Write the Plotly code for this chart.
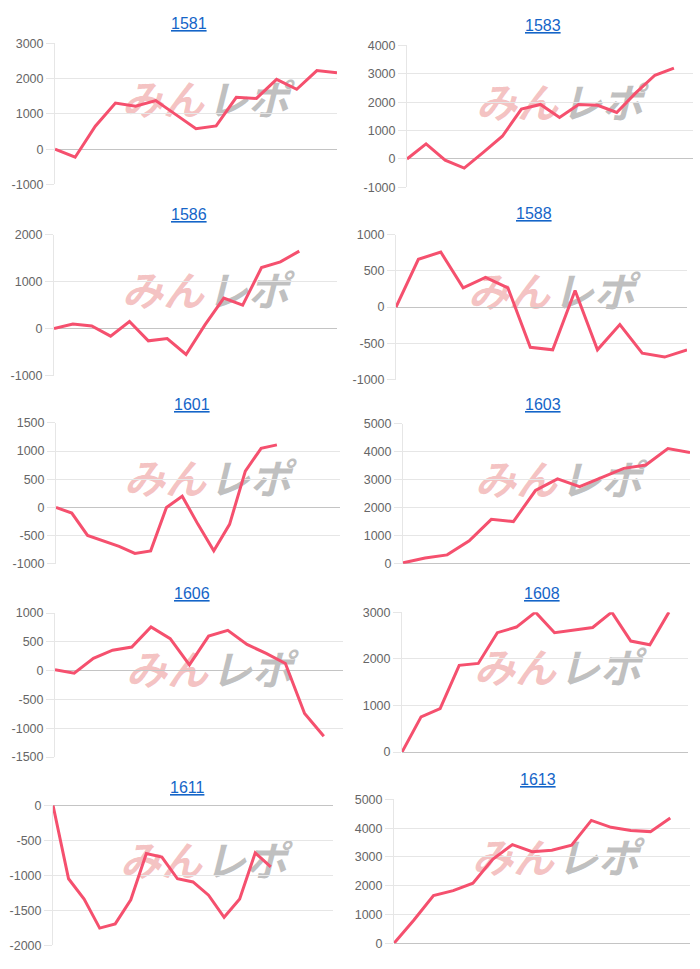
import plotly.graph_objects as go

# ---------------- data ----------------
titles = ["1581", "1583", "1586", "1588", "1601", "1603", "1606", "1608", "1611", "1613"]
n_categories = [15, 16, 16, 14, 19, 14, 16, 16, 19, 16]

v1581 = [0, -230, 650, 1310, 1220, 1380, 980, 580, 660, 1470, 1440, 1980, 1700, 2230, 2170]
v1583 = [0, 530, -40, -320, 230, 800, 1760, 1920, 1460, 1920, 1890, 1640, 2330, 2950, 3200]
v1586 = [0, 100, 55, -160, 150, -260, -210, -550, 80, 650, 500, 1300, 1420, 1650]
v1588 = [0, 660, 760, 265, 410, 265, -555, -590, 230, -590, -240, -635, -690, -590]
v1601 = [0, -100, -495, -590, -690, -815, -770, 0, 200, -300, -770, -300, 645, 1050, 1110]
v1603 = [35, 210, 320, 820, 1590, 1510, 2620, 3035, 2760, 3080, 3410, 3530, 4120, 3980]
v1606 = [15, -45, 215, 355, 410, 760, 555, 100, 600, 700, 455, 300, 125, -745, -1140]
v1608 = [0, 755, 930, 1860, 1900, 2560, 2680, 3000, 2560, 2620, 2670, 3000, 2380, 2300, 3000]
v1611 = [0, -1050, -1340, -1755, -1695, -1350, -690, -740, -1050, -1095, -1285, -1600, -1340, -680, -880]
v1613 = [0, 800, 1660, 1830, 2090, 2920, 3430, 3180, 3230, 3410, 4270, 4030, 3920, 3880, 4350]

series = [v1581, v1583, v1586, v1588, v1601, v1603, v1606, v1608, v1611, v1613]

y_min = [-1000, -1000, -1000, -1000, -1000, 0, -1500, 0, -2000, 0]
y_max = [3000, 4000, 2000, 1000, 1500, 5000, 1000, 3000, 0, 5000]
y_step = [1000, 1000, 1000, 500, 500, 1000, 500, 1000, 500, 1000]

watermark_parts = ["みん", "レポ"]

# ---------------- layout (pixels) ----------------
W, H = 700, 969
# plot boxes: x0, x1, y0(top), y1(bottom)
boxes = [
    (55, 337, 37, 180), (407, 693, 39, 183),
    (54, 337, 231, 374), (396, 687, 231, 378),
    (56, 340, 422, 565), (403, 690, 423, 565),
    (55, 343, 615, 761), (402, 688, 614, 756),
    (53, 333, 810, 952), (394, 690, 804, 950),
]
title_pos = [
    (189, 17), (543, 19), (189, 211), (534, 210), (192, 403),
    (543, 403), (192, 595), (542, 595), (187, 792), (538, 784),
]
wm_centers = [
    (207, 99), (561, 102), (207, 293), (553, 294), (209, 484),
    (560, 485), (211, 678), (559, 676), (205, 871), (557, 868),
]

LINE_COLOR = "rgb(245,80,110)"
GRID = "#e6e6e6"
ZERO = "#c4c4c4"
TICKFONT = dict(family="Liberation Sans, Arial, sans-serif", size=12.5, color="#666666")

fig = go.Figure()

# underlay watermark subplot (xy) covering the whole page
wx, wy, wt, wc = [], [], [], []
for cx, cy in wm_centers:
    wx += [cx - 44, cx + 41]
    wy += [cy, cy]
    wt += watermark_parts
    wc += ["rgba(232,120,120,0.45)", "rgba(150,150,150,0.6)"]
fig.add_trace(go.Scatter(
    x=wx, y=wy, text=wt, mode="text", xaxis="x", yaxis="y",
    textfont=dict(family="Noto Sans CJK JP", size=41, color=wc, weight="bold", style="italic"),
    hoverinfo="skip", showlegend=False,
))
layout = dict(
    xaxis=dict(domain=[0, 1], range=[0, W], visible=False, fixedrange=True),
    yaxis=dict(domain=[0, 1], range=[H, 0], visible=False, fixedrange=True),
)

annotations = []
for i, vals in enumerate(series):
    k = i + 2
    n = n_categories[i]
    cats = [str(c + 1) for c in range(n)]
    yvals = list(vals) + [None] * (n - len(vals))
    fig.add_trace(go.Scatter(
        x=cats, y=yvals, mode="lines", xaxis=f"x{k}", yaxis=f"y{k}",
        line=dict(color=LINE_COLOR, width=3), hoverinfo="skip", showlegend=False,
        connectgaps=False,
    ))
    x0, x1, t, b = boxes[i]
    tv = list(range(y_min[i], y_max[i] + 1, y_step[i]))
    layout[f"xaxis{k}"] = dict(
        domain=[x0 / W, x1 / W], type="category", range=[0, n - 1],
        showgrid=False, zeroline=False, showline=False, showticklabels=False,
        ticks="", anchor=f"y{k}", fixedrange=True,
    )
    layout[f"yaxis{k}"] = dict(
        domain=[1 - b / H, 1 - t / H], range=[y_min[i], y_max[i]],
        tickvals=tv, ticktext=[str(v) for v in tv],
        showgrid=True, gridcolor=GRID, gridwidth=1,
        zeroline=True, zerolinecolor=ZERO, zerolinewidth=1,
        showline=True, linecolor=GRID, linewidth=1,
        ticks="outside", ticklen=8, tickcolor=GRID,
        tickfont=TICKFONT, anchor=f"x{k}", fixedrange=True,
    )
    tx, ty = title_pos[i]
    annotations.append(dict(
        text=f"<u>{titles[i]}</u>", x=tx / W, y=1 - ty / H, xref="paper", yref="paper",
        xanchor="center", yanchor="middle", showarrow=False,
        font=dict(family="Liberation Sans, Arial, sans-serif", size=16, color="#1565c8"),
    ))

fig.update_layout(
    width=W, height=H, margin=dict(l=0, r=0, t=0, b=0),
    paper_bgcolor="white", plot_bgcolor="rgba(0,0,0,0)",
    showlegend=False, hovermode=False, annotations=annotations, **layout,
)

fig.write_html("out.html", config={"displayModeBar": False})
